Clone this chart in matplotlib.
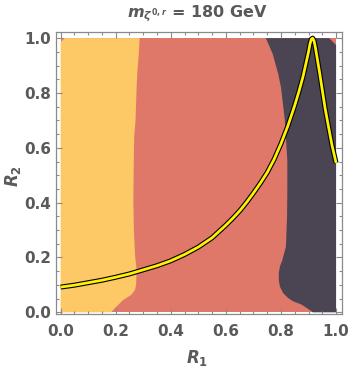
import numpy as np
import matplotlib
matplotlib.use("Agg")
import matplotlib.pyplot as plt
from matplotlib.ticker import MultipleLocator
import matplotlib.patheffects as pe

# colours
c_yellow = "#FDC866"
c_salmon = "#E0786A"
c_dark = "#4B4553"
c_text = "#5a5a5a"
c_frame = "#8a8a8a"

# boundary yellow | salmon  (R2 -> R1)
b1_r2 = [0, 0.015, 0.033, 0.045, 0.064, 0.082, 0.1, 0.155, 0.21, 0.3, 0.4, 0.5,
         0.58, 0.64, 0.701, 0.762, 0.823, 0.883, 0.944, 1.0]
b1_r1 = [0.183, 0.197, 0.215, 0.227, 0.257, 0.27, 0.274, 0.276, 0.27, 0.266, 0.264,
         0.265, 0.266, 0.267, 0.272, 0.274, 0.276, 0.279, 0.284, 0.287]

# left edge of yellow region (small notch in the top-left corner)
b0_r2 = [0, 0.985, 1.0]
b0_r1 = [0, 0, 0.015]

# boundary salmon | dark  (R2 -> R1)
b2_r2 = [0, 0.004, 0.016, 0.028, 0.04, 0.052, 0.07, 0.094, 0.118, 0.143, 0.167,
         0.191, 0.24, 0.35, 0.45, 0.554, 0.7, 0.82, 0.869, 0.942, 1.0]
b2_r1 = [0.915, 0.911, 0.893, 0.875, 0.844, 0.826, 0.808, 0.796, 0.792, 0.792, 0.796,
         0.805, 0.818, 0.822, 0.823, 0.823, 0.814, 0.80, 0.79, 0.77, 0.745]

# right edge of dark region (small notch in the top-right corner)
b3_r2 = [0, 0.975, 1.0]
b3_r1 = [1.0, 1.0, 0.975]

# yellow curve
curve_r1 = [0, 0.05, 0.1, 0.15, 0.2, 0.25, 0.3, 0.35, 0.4, 0.45, 0.5, 0.55, 0.6, 0.625,
            0.65, 0.675, 0.7, 0.725, 0.75, 0.775, 0.8, 0.825, 0.85, 0.865, 0.88, 0.89,
            0.9, 0.905, 0.91, 0.915, 0.92, 0.925, 0.93, 0.94, 0.95, 0.96, 0.97, 0.985,
            1.0]
curve_r2 = [0.092, 0.099, 0.108, 0.117, 0.128, 0.14, 0.155, 0.17, 0.188, 0.211, 0.238,
            0.272, 0.318, 0.343, 0.37, 0.401, 0.435, 0.471, 0.51, 0.558, 0.615, 0.68,
            0.755, 0.805, 0.86, 0.905, 0.95, 0.978, 0.996, 1.0, 0.99, 0.965, 0.935,
            0.875, 0.81, 0.745, 0.69, 0.61, 0.545]

title = r"$m_{\zeta^{0,r}}$ = 180 GeV"
xlabel = r"$R_1$"
ylabel = r"$R_2$"
ticks = [0.0, 0.2, 0.4, 0.6, 0.8, 1.0]

plt.rcParams["mathtext.fontset"] = "custom"
plt.rcParams["mathtext.it"] = "DejaVu Sans:italic:bold"
plt.rcParams["mathtext.rm"] = "DejaVu Sans:bold"
plt.rcParams["mathtext.bf"] = "DejaVu Sans:bold"
fig = plt.figure(figsize=(3.5, 3.72), dpi=100)
ax = fig.add_axes([0.159, 0.156, 0.817, 0.757])

# salmon background over data range
ax.fill_between([0, 1], [0, 0], [1, 1], color=c_salmon, lw=0)
# yellow
ax.fill(np.concatenate([b0_r1, b1_r1[::-1]]), np.concatenate([b0_r2, b1_r2[::-1]]),
        color=c_yellow, lw=0)
# dark
ax.fill(np.concatenate([b2_r1, b3_r1[::-1]]), np.concatenate([b2_r2, b3_r2[::-1]]),
        color=c_dark, lw=0)

ax.plot(curve_r1, curve_r2, color="#FFF200", lw=2.0, solid_capstyle="butt",
        solid_joinstyle="round",
        path_effects=[pe.Stroke(linewidth=3.6, foreground="black"), pe.Normal()])

ax.set_xlim(-0.018, 1.02)
ax.set_ylim(-0.006, 1.021)
ax.set_xticks(ticks)
ax.set_yticks(ticks)
ax.set_xticklabels([f"{t:.1f}" for t in ticks])
ax.set_yticklabels([f"{t:.1f}" for t in ticks])
ax.xaxis.set_minor_locator(MultipleLocator(0.05))
ax.yaxis.set_minor_locator(MultipleLocator(0.05))
ax.tick_params(which="both", direction="in", top=True, right=True, color=c_frame,
               width=0.8)
ax.tick_params(which="major", length=4.5)
ax.tick_params(which="minor", length=2.5)
ax.tick_params(axis="x", which="major", pad=7, labelsize=11, labelcolor=c_text)
ax.tick_params(axis="y", which="major", pad=3, labelsize=11, labelcolor=c_text)
for lab in ax.get_xticklabels() + ax.get_yticklabels():
    lab.set_fontweight("bold")
for s in ax.spines.values():
    s.set_color(c_frame)
    s.set_linewidth(0.9)

fig.text(197 / 350, 1 - 14 / 372, title, ha="center", va="center", fontsize=11.5,
         color=c_text, fontweight="bold")
fig.text(197 / 350, 1 - 358 / 372, xlabel, ha="center", va="center", fontsize=12,
         color=c_text)
fig.text(13 / 350, 1 - 176 / 372, ylabel, ha="center", va="center", fontsize=12,
         color=c_text, rotation=90)

fig.savefig("out.png", dpi=100)
